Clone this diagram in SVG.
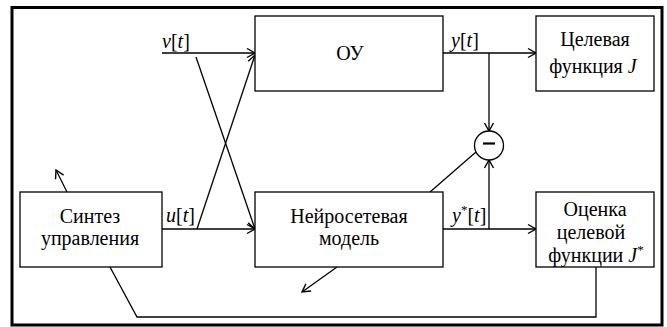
<svg xmlns="http://www.w3.org/2000/svg" width="667" height="327" viewBox="0 0 667 327">
<defs>
<marker id="ah" markerWidth="12" markerHeight="12" refX="9" refY="5" orient="auto" markerUnits="userSpaceOnUse" viewBox="0 0 12 10">
<path d="M1,0.5 L9,5 L1,9.5" fill="none" stroke="#000" stroke-width="1.4"/>
</marker>
</defs>
<style>
.box{fill:#fff;stroke:#000;stroke-width:1.3}
.ln{fill:none;stroke:#000;stroke-width:1.3}
.arr{fill:none;stroke:#000;stroke-width:1.3;marker-end:url(#ah)}
text{font-family:"Liberation Serif","Times New Roman",serif;font-size:20px;fill:#000}
.c{text-anchor:middle}
.i{font-style:italic}
</style>
<rect x="0" y="0" width="667" height="327" fill="#fff"/>
<rect x="12" y="7.5" width="650" height="317.5" fill="none" stroke="#000" stroke-width="3"/>
<g id="connectors">
<line class="arr" x1="162" y1="53" x2="255" y2="53"/>
<line class="arr" x1="196" y1="57" x2="255" y2="229"/>
<line class="arr" x1="197" y1="229" x2="255" y2="55"/>
<line class="arr" x1="162" y1="229" x2="255" y2="229"/>
<line class="arr" x1="443" y1="53" x2="536" y2="53"/>
<line class="arr" x1="489" y1="53" x2="489" y2="131"/>
<line class="arr" x1="443" y1="229" x2="536" y2="229"/>
<line class="arr" x1="489" y1="229" x2="489" y2="160"/>
<line class="ln" x1="430" y1="192" x2="476" y2="152"/>
<line class="arr" x1="67" y1="192" x2="56" y2="170"/>
<line class="arr" x1="337" y1="267" x2="302" y2="292"/>
<polyline class="ln" points="110,267 137,317 596,317 596,267"/>
<text x="162" y="48"><tspan class="i">v</tspan>[<tspan class="i">t</tspan>]</text>
<text x="451" y="47"><tspan class="i">y</tspan>[<tspan class="i">t</tspan>]</text>
<text x="166" y="222"><tspan class="i">u</tspan>[<tspan class="i">t</tspan>]</text>
<text x="452" y="222"><tspan class="i">y</tspan><tspan font-size="13" dy="-8">*</tspan><tspan dy="8">[</tspan><tspan class="i">t</tspan>]</text>
</g>
<g id="ou">
<rect class="box" x="255" y="16" width="188" height="75"/>
<text class="c" x="350" y="60">ОУ</text>
</g>
<g id="target">
<rect class="box" x="536" y="16" width="118" height="75"/>
<text class="c" x="595" y="46">Целевая</text>
<text class="c" x="593" y="73">функция <tspan class="i">J</tspan></text>
</g>
<g id="synth">
<rect class="box" x="20" y="192" width="142" height="75"/>
<text class="c" x="90" y="223">Синтез</text>
<text class="c" x="90" y="245">управления</text>
</g>
<g id="nn">
<rect class="box" x="255" y="192" width="188" height="75"/>
<text class="c" x="349" y="223">Нейросетевая</text>
<text class="c" x="349" y="245">модель</text>
</g>
<g id="estimate">
<rect class="box" x="536" y="192" width="118" height="75"/>
<text class="c" x="595" y="216">Оценка</text>
<text class="c" x="591" y="239">целевой</text>
<text class="c" x="596" y="262">функции <tspan class="i">J</tspan><tspan font-size="13" dy="-8">*</tspan></text>
</g>
<g id="diff">
<circle cx="489" cy="145.5" r="14.5" fill="#fff" stroke="#000" stroke-width="1.3"/>
<line x1="483" y1="143.5" x2="495" y2="143.5" stroke="#000" stroke-width="2.2"/>
</g>
</svg>
